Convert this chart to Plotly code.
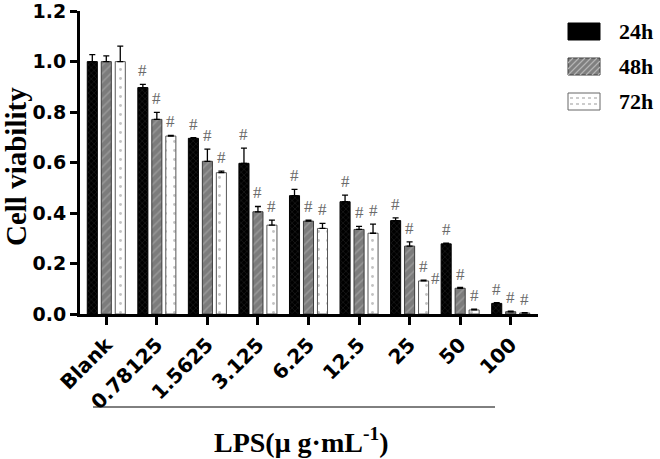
import plotly.graph_objects as go

categories = ["Blank", "0.78125", "1.5625", "3.125", "6.25", "12.5", "25", "50", "100"]
series_names = ["24h", "48h", "72h"]
v24 = [1.00, 0.897, 0.696, 0.597, 0.469, 0.445, 0.370, 0.278, 0.042]
v48 = [1.00, 0.771, 0.605, 0.405, 0.368, 0.335, 0.269, 0.102, 0.009]
v72 = [1.00, 0.705, 0.560, 0.352, 0.339, 0.320, 0.131, 0.016, 0.004]
e24 = [0.028, 0.013, 0.003, 0.060, 0.025, 0.026, 0.011, 0.003, 0.003]
e48 = [0.023, 0.028, 0.048, 0.021, 0.004, 0.012, 0.017, 0.003, 0.002]
e72 = [0.061, 0.003, 0.006, 0.020, 0.020, 0.036, 0.003, 0.003, 0.001]
# significance marks (# above bars, none for Blank)
sig24 = [False, True, True, True, True, True, True, True, True]
sig48 = [False, True, True, True, True, True, True, True, True]
sig72 = [False, True, True, True, True, True, True, True, True]
extra_mark_x = [6.52]   # stray "#" between 25 and 50 groups
extra_mark_y = [0.14]
y_ticks = [0.0, 0.2, 0.4, 0.6, 0.8, 1.0, 1.2]
y_ticktext = ["0.0", "0.2", "0.4", "0.6", "0.8", "1.0", "1.2"]

values = [v24, v48, v72]
errors = [e24, e48, e72]
sigs = [sig24, sig48, sig72]

W, H = 660, 459
L, R, T, B = 80, 122, 11, 145
PW, PH = W - L - R, H - T - B

def px(xp):
    return (xp - L) / PW

def py(yp):
    return (H - B - yp) / PH

styles = [
    dict(color="#000000", line=dict(color="#000000", width=1),
         pattern=dict(shape="x", bgcolor="#000000", fgcolor="#3a3a3a", size=4, solidity=0.3)),
    dict(color="#808080", line=dict(color="#3c3c3c", width=1),
         pattern=dict(shape="/", bgcolor="#7c7c7c", fgcolor="#b4b4b4", size=6, solidity=0.25)),
    dict(color="#ffffff", line=dict(color="#555555", width=1),
         pattern=dict(shape=".", bgcolor="#ffffff", fgcolor="#888888", size=9, solidity=0.08)),
]

fig = go.Figure()
for name, vals, errs, st in zip(series_names, values, errors, styles):
    fig.add_trace(go.Bar(
        x=categories, y=vals, name=name, marker=st,
        error_y=dict(type="data", symmetric=False, array=errs, arrayminus=[0] * len(errs),
                     color="#000000", thickness=1.3, width=3),
        showlegend=False,
    ))

bargap = 0.17
slot = (1 - bargap) / 3
hash_font = dict(family="Liberation Serif", size=17, color="#6a6a6a")
annotations = []
for k, (vals, errs, sg) in enumerate(zip(values, errors, sigs)):
    for i, (v, e, s) in enumerate(zip(vals, errs, sg)):
        if s:
            annotations.append(dict(
                x=i + (k - 1) * slot, y=v + e, xref="x", yref="y", text="#",
                showarrow=False, yanchor="bottom", yshift=2, font=hash_font))
for xm, ym in zip(extra_mark_x, extra_mark_y):
    annotations.append(dict(x=xm, y=ym, xref="x", yref="y", text="#", showarrow=False, font=hash_font))

# axis titles
annotations.append(dict(x=px(16), y=py(167), xref="paper", yref="paper", text="<b>Cell viability</b>",
                        textangle=-90, showarrow=False, xanchor="center", yanchor="middle",
                        font=dict(family="Liberation Serif", size=29, color="#000000")))
annotations.append(dict(x=px(301), y=py(440), xref="paper", yref="paper",
                        text="<b>LPS(μ g·mL<sup>-1</sup>)</b>", showarrow=False,
                        xanchor="center", yanchor="middle",
                        font=dict(family="Liberation Serif", size=28, color="#000000")))

shapes = [dict(type="line", xref="paper", yref="paper", x0=px(93), x1=px(495), y0=py(407), y1=py(407),
               line=dict(color="#000000", width=1))]

# manual legend
sw_x0, sw_x1 = 568, 600
sw_tops = [23, 58, 93]
sw_h = 17
for k, (name, top) in enumerate(zip(series_names, sw_tops)):
    bot = top + sw_h
    if k == 0:
        shapes.append(dict(type="rect", xref="paper", yref="paper", x0=px(sw_x0), x1=px(sw_x1),
                           y0=py(bot), y1=py(top), fillcolor="#000000", line=dict(color="#000000", width=1)))
    elif k == 1:
        shapes.append(dict(type="rect", xref="paper", yref="paper", x0=px(sw_x0), x1=px(sw_x1),
                           y0=py(bot), y1=py(top), fillcolor="#808080", line=dict(color="#3c3c3c", width=1)))
        path = ""
        for s in range(-12, 34, 6):
            xa, ya = sw_x0 + s, bot
            xb, yb = sw_x0 + s + sw_h, top
            if xa < sw_x0:
                ya = bot - (sw_x0 - xa); xa = sw_x0
            if xb > sw_x1:
                yb = top + (xb - sw_x1); xb = sw_x1
            if ya <= yb:
                continue
            path += f"M{px(xa)},{py(ya)} L{px(xb)},{py(yb)} "
        shapes.append(dict(type="path", xref="paper", yref="paper", path=path,
                           line=dict(color="#b4b4b4", width=1.2)))
    else:
        shapes.append(dict(type="rect", xref="paper", yref="paper", x0=px(sw_x0), x1=px(sw_x1),
                           y0=py(bot), y1=py(top), fillcolor="#ffffff", line=dict(color="#666666", width=1)))
        for yy in (top + 5, top + 11):
            shapes.append(dict(type="line", xref="paper", yref="paper", x0=px(sw_x0 + 2), x1=px(sw_x1 - 2),
                               y0=py(yy), y1=py(yy), line=dict(color="#999999", width=1, dash="dot")))
    annotations.append(dict(x=px(617), y=py(top + sw_h / 2), xref="paper", yref="paper",
                            text=f"<b>{name}</b>", showarrow=False, xanchor="left", yanchor="middle",
                            font=dict(family="Liberation Serif", size=22, color="#000000")))

fig.update_layout(
    width=W, height=H, margin=dict(l=L, r=R, t=T, b=B, autoexpand=False),
    paper_bgcolor="white", plot_bgcolor="white",
    barmode="group", bargap=bargap, bargroupgap=0.28,
    showlegend=False,
    annotations=annotations, shapes=shapes,
    xaxis=dict(type="category", range=[-0.52, 8.54], showline=True, linecolor="#000000", linewidth=3,
               ticks="outside", ticklen=8, tickwidth=3, tickcolor="#000000", tickangle=-45,
               tickfont=dict(family="DejaVu Sans", size=20, color="#000000", weight="bold"),
               showgrid=False, zeroline=False),
    yaxis=dict(range=[0, 1.2005], tickmode="array", tickvals=y_ticks, ticktext=y_ticktext,
               ticklabeloverflow="allow",
               showline=True, linecolor="#000000", linewidth=3,
               ticks="outside", ticklen=7, tickwidth=3, tickcolor="#000000",
               tickfont=dict(family="DejaVu Sans", size=19, color="#000000", weight="bold"),
               showgrid=False, zeroline=False),
)

fig.write_html("out.html", config={"displayModeBar": False},
               post_script="document.body.style.margin='0px';")
